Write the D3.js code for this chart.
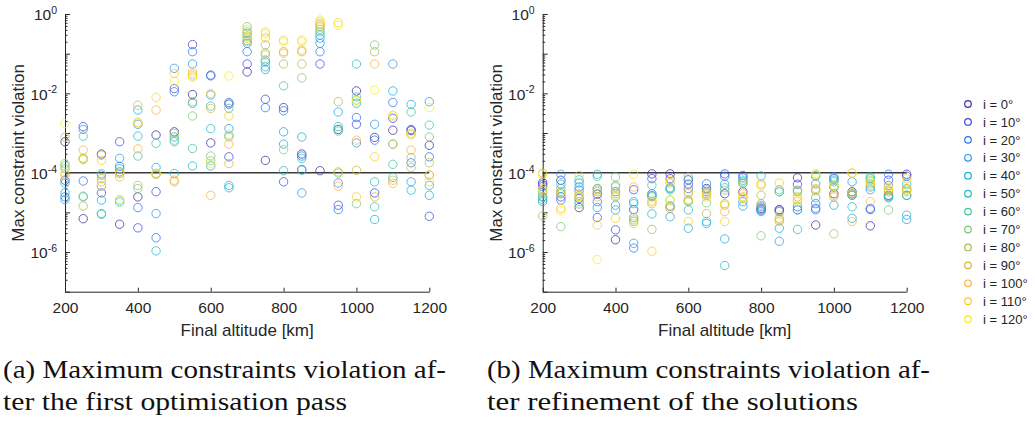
<!DOCTYPE html>
<html lang="en">
<head>
	<meta charset="utf-8">
	<title>constraint violation</title>
	<script src="https://d3js.org/d3.v7.min.js"></script>
	<style>
		body{ margin:0; background:#fff; }
	</style>
</head>
<body>
<svg id="chart" width="1035" height="421" font-family="'Liberation Sans', Arial, Roboto, sans-serif"></svg>

<script>
// altitude columns and inclination series
const altitudes = [200,250,300,350,400,450,500,550,600,650,700,750,800,850,900,950,1000,1050,1100,1150,1200];
const inclinations = [0,10,20,30,40,50,60,70,80,90,100,110,120];
const altTicks = [200,400,600,800,1000,1200];
const yLabelExps = [0,-2,-4,-6];
const limit = 1e-4;

// log10 of max constraint violation, one row per altitude, one column per inclination
const firstPass = [
	[-3.22,-4.19,-4.61,-4.68,-4.51,-4.26,-3.90,-3.77,-3.83,-3.10,-4.06,-4.02,-2.76],
	[-5.16,-2.84,-4.21,-2.91,-3.64,-4.61,-3.08,-4.59,-4.84,-3.67,-3.43,-3.64,-3.67],
	[-3.53,-4.51,-4.34,-4.06,-4.69,-5.03,-5.05,-4.02,-3.56,-4.15,-4.23,-3.69,-4.34],
	[-5.30,-3.22,-3.84,-3.64,-3.90,-4.74,-3.98,-4.69,-3.98,-4.02,-4.11,-4.02,-4.68],
	[-4.61,-5.39,-4.88,-2.78,-2.42,-3.08,-3.58,-4.40,-4.32,-2.30,-3.40,-2.74,-2.72],
	[-3.05,-4.48,-5.64,-5.03,-3.87,-5.97,-3.26,-4.02,-4.04,-4.02,-2.42,-2.10,-4.02],
	[-2.97,-1.88,-1.96,-1.37,-3.10,-4.02,-3.22,-3.18,-3.01,-4.23,-4.19,-1.50,-1.69],
	[-2.03,-0.77,-0.95,-1.26,-2.25,-3.83,-3.39,-2.57,-2.21,-1.51,-1.56,-1.44,-1.60],
	[-3.25,-1.54,-1.56,-2.04,-3.83,-2.89,-2.32,-3.58,-3.70,-2.38,-4.57,-2.00,-3.77],
	[-2.27,-3.60,-2.23,-2.89,-4.38,-4.32,-2.38,-3.05,-3.10,-3.77,-3.28,-2.57,-1.56],
	[-1.46,-1.26,-0.95,-0.74,-0.67,-0.56,-0.49,-0.32,-0.45,-0.61,-0.70,-0.39,-0.57],
	[-3.69,-2.15,-2.36,-1.21,-1.40,-1.33,-1.16,-0.98,-0.78,-1.03,-0.60,-0.45,-0.50],
	[-2.36,-4.23,-2.44,-2.97,-3.28,-3.95,-1.81,-3.42,-1.26,-0.95,-0.99,-0.66,-0.70],
	[-3.53,-3.92,-3.58,-4.51,-3.10,-3.64,-3.94,-1.61,-1.26,-0.95,-0.91,-0.66,-0.70],
	[-3.95,-1.26,-0.95,-0.74,-0.61,-0.53,-0.45,-0.39,-0.32,-0.28,-0.24,-0.19,-0.15],
	[-2.91,-4.82,-4.93,-4.26,-2.47,-2.84,-2.95,-4.01,-2.21,-3.98,-4.34,-0.22,-0.28],
	[-1.94,-2.78,-2.61,-3.25,-2.25,-1.26,-2.09,-4.78,-2.17,-3.94,-3.18,-4.61,-2.19],
	[-3.11,-4.51,-3.18,-2.78,-5.18,-4.23,-4.86,-0.78,-0.95,-4.61,-1.26,-3.60,-1.92],
	[-2.93,-2.63,-2.23,-1.26,-1.94,-4.12,-3.79,-3.28,-3.28,-4.19,-4.27,-2.55,-2.57],
	[-2.94,-2.91,-3.75,-4.23,-2.28,-4.44,-2.47,-3.01,-3.62,-3.87,-3.43,-3.05,-3.01],
	[-3.31,-5.10,-3.60,-2.21,-4.57,-4.32,-2.80,-3.10,-3.75,-4.06,-4.06,-4.23,-2.36]
];

const refined = [
	[-4.25,-4.30,-4.35,-4.60,-4.73,-4.68,-4.50,-4.62,-5.09,-4.01,-4.45,-4.40,-4.05],
	[-4.19,-4.61,-4.69,-4.04,-4.29,-4.40,-4.48,-5.36,-4.53,-4.53,-4.90,-4.48,-4.96],
	[-4.88,-4.65,-4.44,-4.36,-4.26,-4.18,-4.73,-4.79,-4.57,-4.61,-4.53,-4.07,-4.61],
	[-4.54,-5.13,-4.73,-4.88,-4.40,-4.04,-4.09,-4.44,-4.40,-4.48,-4.61,-5.32,-6.19],
	[-5.69,-5.44,-4.48,-4.82,-4.94,-4.61,-4.32,-4.11,-4.36,-4.53,-4.57,-5.15,-4.61],
	[-4.93,-4.43,-5.90,-5.78,-4.73,-4.78,-5.13,-5.19,-5.23,-5.13,-4.36,-5.28,-4.04],
	[-4.03,-4.15,-4.53,-4.59,-4.57,-5.04,-4.32,-4.61,-5.43,-4.78,-4.73,-5.98,-4.69],
	[-4.03,-4.15,-4.84,-5.11,-4.38,-4.40,-4.43,-4.69,-4.90,-4.86,-4.26,-4.19,-4.69],
	[-4.18,-4.29,-4.40,-4.69,-5.40,-4.94,-4.11,-4.73,-4.71,-4.48,-4.53,-5.23,-4.69],
	[-4.40,-4.48,-4.28,-4.53,-5.28,-5.23,-4.43,-4.76,-5.03,-4.57,-4.48,-4.61,-4.53],
	[-4.53,-4.03,-4.09,-4.29,-5.67,-6.34,-4.38,-4.44,-4.78,-4.82,-4.98,-5.23,-4.78],
	[-4.48,-4.07,-4.13,-4.73,-4.84,-4.19,-4.23,-4.26,-4.28,-4.61,-4.53,-4.65,-4.63],
	[-4.90,-4.94,-4.86,-4.98,-4.94,-4.08,-4.82,-5.59,-4.57,-4.78,-4.28,-4.32,-4.32],
	[-4.93,-4.94,-4.98,-5.73,-5.40,-4.48,-4.43,-4.48,-5.15,-5.19,-5.23,-4.26,-5.07],
	[-4.13,-4.29,-4.86,-4.94,-4.93,-5.43,-4.44,-4.48,-4.46,-4.61,-4.68,-4.73,-4.65],
	[-5.32,-4.90,-4.78,-4.28,-4.94,-4.63,-4.09,-4.07,-4.43,-4.46,-4.40,-4.03,-4.04],
	[-4.53,-4.15,-4.36,-4.11,-4.82,-4.19,-4.23,-4.36,-5.54,-4.61,-4.57,-4.32,-4.34],
	[-4.48,-4.53,-4.57,-4.23,-5.15,-4.86,-4.57,-4.53,-4.53,-4.01,-5.23,-4.51,-4.01],
	[-5.34,-4.93,-4.90,-4.43,-4.36,-4.11,-4.15,-4.19,-4.28,-4.23,-4.73,-4.32,-4.23],
	[-4.57,-4.19,-4.04,-4.32,-4.63,-4.61,-4.59,-4.94,-4.43,-4.48,-4.46,-4.40,-4.36],
	[-4.04,-4.09,-4.57,-5.18,-5.07,-4.29,-4.57,-4.44,-4.40,-4.48,-4.40,-4.15,-4.48]
];

const colors = ["#3e2a9e","#3d48e8","#2d72f2","#2b95ea","#12aedc","#1cbcc0","#3cc49e","#78c878","#a9bc52","#d3b43e","#fbb23a","#f5cd24","#f4ee1c"];

const captionA = ["(a) Maximum constraints violation af-","ter the first optimisation pass"];
const captionB = ["(b) Maximum constraints violation af-","ter refinement of the solutions"];

const svg = d3.select("#chart");
const yTop = 14, yBottom = 291.7;
const ink = "#262626";

function panel(x0, x1, rows, caption, capX, capWidths){
	let g = svg.append("g");
	let x = d3.scaleLinear().domain([200,1200]).range([x0,x1]);
	let y = d3.scaleLog().domain([1e-7,1]).range([yBottom,yTop]);

	// minor ticks on the log axis
	let minors = [];
	for(let e=-7;e<0;e++){ for(let m=2;m<10;m++){ minors.push(m*Math.pow(10,e)); } }
	g.append("g").attr("transform","translate("+x0+",0)")
		.call(d3.axisLeft(y).tickValues(minors).tickSize(-2.5).tickSizeOuter(0).tickFormat(""))
		.call(a=>a.select(".domain").remove());

	let majors = d3.range(-7,1).map(e=>Math.pow(10,e));
	let ya = g.append("g").attr("transform","translate("+x0+",0)")
		.call(d3.axisLeft(y).tickValues(majors).tickSize(-5).tickSizeOuter(0).tickPadding(8).tickFormat(""));
	ya.selectAll(".tick text").each(function(d){
		let e = Math.round(Math.log10(d));
		if(yLabelExps.indexOf(e) < 0) return;
		let t = d3.select(this).attr("font-size",15.5).attr("dy","0.38em").attr("fill",ink);
		t.append("tspan").text("10");
		t.append("tspan").attr("font-size",10.5).attr("dy","-0.6em").text(e);
	});

	let xa = g.append("g").attr("transform","translate(0,"+yBottom+")")
		.call(d3.axisBottom(x).tickValues(altTicks).tickSize(-4).tickSizeOuter(0).tickPadding(10).tickFormat(d3.format("d")));
	xa.selectAll(".tick text").attr("font-size",15.5).attr("fill",ink);

	g.selectAll(".domain,.tick line").attr("stroke",ink).attr("stroke-width",1);
	g.selectAll("g").attr("font-family",null);

	// 1e-4 threshold
	g.append("line")
		.attr("x1",x0).attr("x2",x1)
		.attr("y1",y(limit)).attr("y2",y(limit))
		.attr("stroke","#3a3a3a").attr("stroke-width",1.5);

	inclinations.forEach((inc,k)=>{
		g.append("g").selectAll("circle")
			.data(altitudes)
			.enter()
			.append("circle")
			.attr("cx",a=>x(a))
			.attr("cy",(a,j)=>y(Math.pow(10,rows[j][k])))
			.attr("r",4.2)
			.attr("fill","none")
			.attr("stroke",colors[k])
			.attr("stroke-opacity",0.75)
			.attr("stroke-width",1);
	});

	g.append("text")
		.attr("x",(x0+x1)/2).attr("y",336)
		.attr("text-anchor","middle").attr("font-size",17).attr("fill",ink)
		.text("Final altitude [km]");
	g.append("text")
		.attr("transform","translate("+(x0-47)+","+((yTop+yBottom)/2)+") rotate(-90)")
		.attr("text-anchor","middle").attr("dy","0.35em").attr("font-size",17).attr("fill",ink)
		.text("Max constraint violation");

	caption.forEach((c,i)=>{
		g.append("text")
			.attr("font-family","'Liberation Serif', 'Times New Roman', serif")
			.attr("x",capX).attr("y",378+i*32)
			.attr("font-size",25).attr("fill","#111")
			.attr("textLength",capWidths[i]).attr("lengthAdjust","spacingAndGlyphs")
			.text(c);
	});
}

panel(65,429.3,firstPass,captionA,3,[443,344]);
panel(542.7,906.7,refined,captionB,487,[443,371]);

// legend
let lg = svg.append("g");
inclinations.forEach((inc,k)=>{
	let yy = 104 + k*17.93;
	lg.append("circle").attr("cx",968).attr("cy",yy).attr("r",3.3)
		.attr("fill","none").attr("stroke",colors[k]).attr("stroke-width",1.2);
	lg.append("text").attr("x",983).attr("y",yy).attr("dy","0.36em")
		.attr("font-size",13).attr("fill",ink).text("i = "+inc+"\u00b0");
});
</script>
</body>
</html>
